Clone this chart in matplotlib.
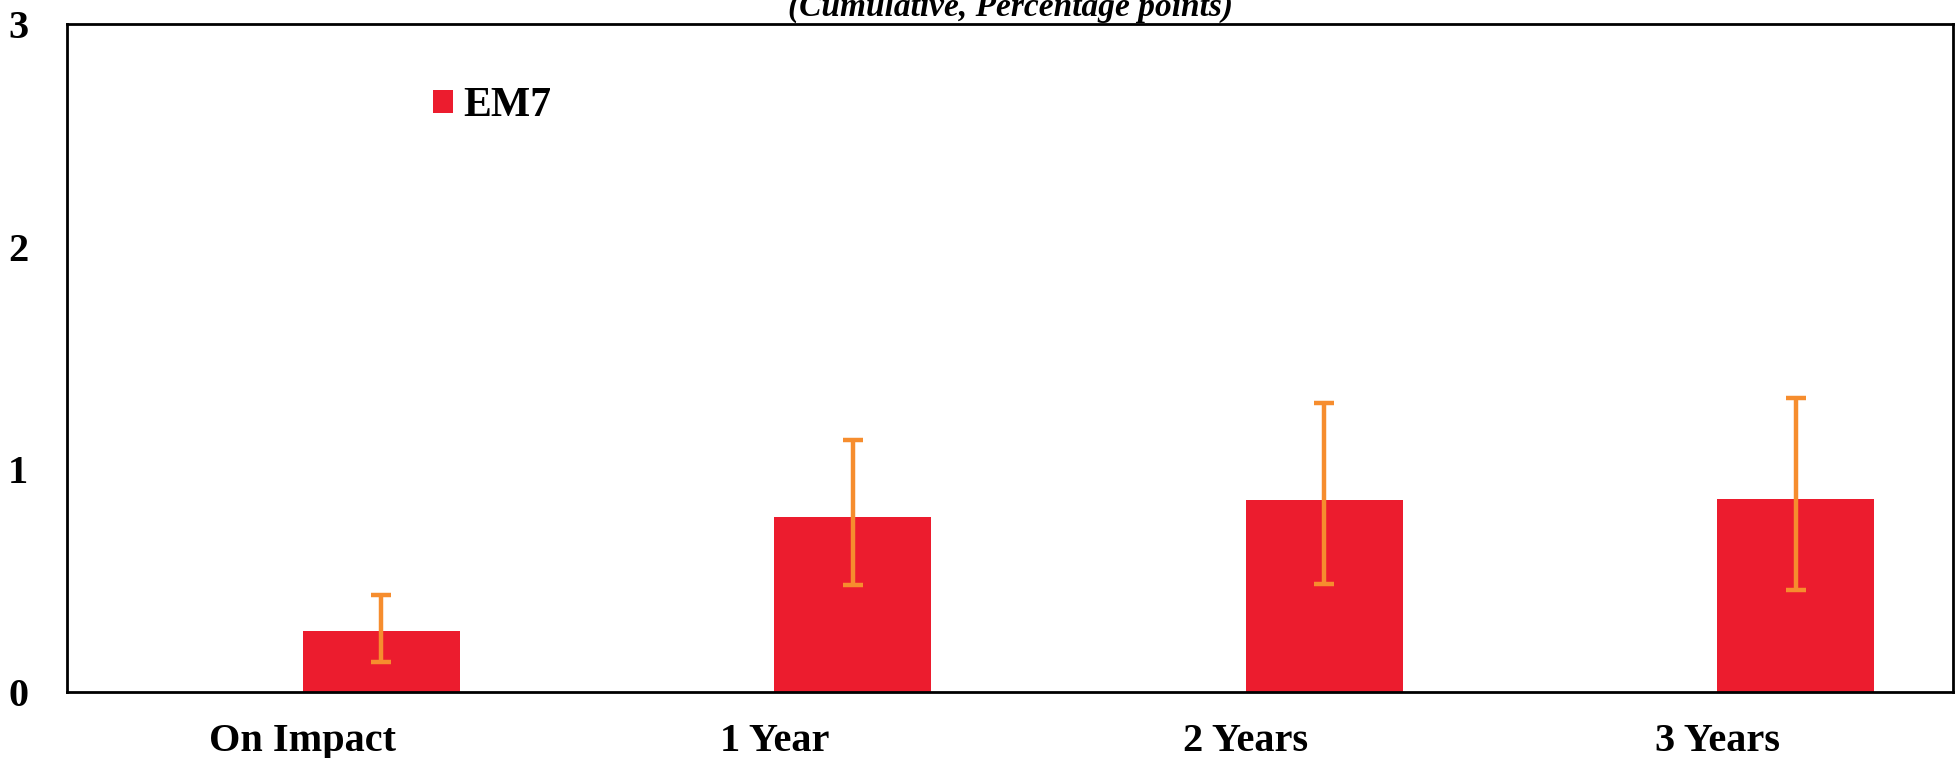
import numpy as np
import matplotlib
matplotlib.use("Agg")
import matplotlib.pyplot as plt

# data
categories = ["On Impact", "1 Year", "2 Years", "3 Years"]
em7 = [0.275, 0.786, 0.862, 0.867]
upper = [0.435, 1.13, 1.30, 1.32]
lower = [0.135, 0.48, 0.485, 0.458]

plt.rcParams["font.family"] = ["Liberation Serif", "DejaVu Serif"]
plt.rcParams["font.weight"] = "bold"

fig = plt.figure(figsize=(19.59, 7.58), dpi=100)
ax = fig.add_axes([0.0342, 0.0871, 0.9627, 0.8812])

x = np.arange(len(categories))
vals = np.array(em7)
yerr = [vals - np.array(lower), np.array(upper) - vals]
bw = 0.333

# bars sit right of the category centre (clustered layout with one series)
ax.bar(x, vals, width=bw, align="edge", color="#EC1C2E", label="EM7", zorder=2)
ax.errorbar(x + bw / 2, vals, yerr=yerr, fmt="none", ecolor="#F68D2E",
            elinewidth=3.2, capsize=7, capthick=3.2, zorder=3)

ax.set_xlim(-0.5, 3.5)
ax.set_ylim(0, 3)
ax.set_yticks([0, 1, 2, 3])
ax.set_xticks(x)
ax.set_xticklabels(categories, fontsize=29, fontweight="bold")
ax.tick_params(axis="both", length=0, labelsize=29)
ax.tick_params(axis="x", pad=22)
ax.tick_params(axis="y", pad=28)
for lab in ax.get_yticklabels():
    lab.set_fontweight("bold")
for s in ax.spines.values():
    s.set_linewidth(2)
    s.set_color("black")

ax.legend(loc="upper left", bbox_to_anchor=(0.194, 0.905), frameon=False,
          prop={"size": 30, "weight": "bold"}, handlelength=0.48,
          handleheight=0.48, handletextpad=0.25, borderaxespad=0,
          borderpad=0)

fig.text(0.5157, 0.979, "(Cumulative, Percentage points)", ha="center",
         va="baseline", fontsize=24, fontweight="bold", style="italic")

fig.savefig("out.png", dpi=100)
